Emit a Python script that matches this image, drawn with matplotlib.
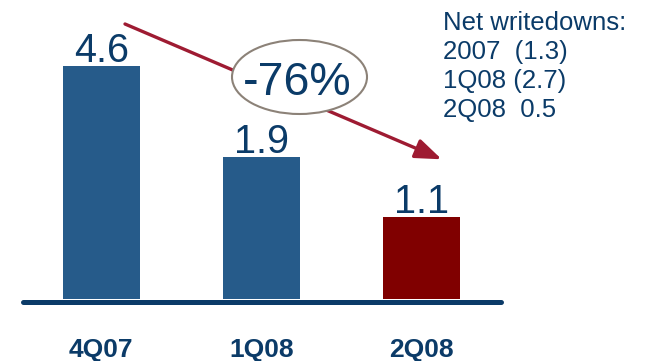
import numpy as np
import matplotlib.pyplot as plt
from matplotlib.patches import Ellipse

plt.rcParams['font.family'] = ['Liberation Sans', 'DejaVu Sans']

# quarterly values (bn)
quarters = ['4Q07', '1Q08', '2Q08']
values = [4.6, 1.9, 1.1]
bar_colors = ['#265B8A', '#265B8A', '#800000']

note_lines = ['Net writedowns:', '2007  (1.3)', '1Q08 (2.7)', '2Q08  0.5']
change_label = '-76%'

NAVY = '#0B3B68'
ARROW = '#9E1B32'

W, H = 645, 361
fig = plt.figure(figsize=(W / 100, H / 100), dpi=100)


def fx(x):
    return x / W


def fy(y):
    # y measured from the top edge, in pixels
    return 1 - y / H


ax = fig.add_axes([fx(22.5), 61.7 / H, fx(478), 299.3 / H])

# the tallest bar is compressed above 1.9 so the chart stays compact
BREAK, SQUEEZE = 1.9, 0.4524


def forward(v):
    v = np.asarray(v, dtype=float)
    return np.where(v <= BREAK, v, BREAK + (v - BREAK) * SQUEEZE)


def inverse(v):
    v = np.asarray(v, dtype=float)
    return np.where(v <= BREAK, v, BREAK + (v - BREAK) / SQUEEZE)


ax.set_yscale('function', functions=(forward, inverse))

x = np.arange(len(quarters))
ax.bar(x, values, width=0.484, color=bar_colors, zorder=2)
ax.set_xlim(-0.4928, 2.4947)
ax.set_ylim(0, 6.55)

for xi, v in zip(x, values):
    ax.annotate(f'{v}', (xi, v), xytext=(0, 3.2), textcoords='offset points',
                ha='center', va='baseline', fontsize=28.5, color=NAVY)

for side in ['top', 'right', 'left']:
    ax.spines[side].set_visible(False)
bottom = ax.spines['bottom']
bottom.set_color(NAVY)
bottom.set_linewidth(3.6)
bottom.set_capstyle('round')
bottom.set_position(('outward', 1.8))

ax.set_yticks([])
ax.set_xticks(x, quarters)
ax.tick_params(axis='x', length=0, pad=26, labelsize=19, labelcolor=NAVY)
for lbl in ax.get_xticklabels():
    lbl.set_fontweight('bold')

# trend arrow with the change badge on top of it
fig.add_artist(plt.Annotation(
    '', xy=(fx(441.7), fy(159.3)), xytext=(fx(125), fy(24)),
    xycoords='figure fraction', textcoords='figure fraction',
    arrowprops=dict(arrowstyle='-|>,head_length=0.8,head_width=0.3',
                    mutation_scale=20, color=ARROW, lw=2.4,
                    shrinkA=0, shrinkB=0)))
fig.add_artist(Ellipse((fx(299.5), fy(77)), fx(135), 74 / H,
                       transform=fig.transFigure, facecolor='white',
                       edgecolor='#8C8278', lw=1.5, zorder=3))
fig.text(fx(297), fy(95), change_label, ha='center', va='baseline',
         fontsize=33.5, color=NAVY, zorder=4)

for i, line in enumerate(note_lines):
    fig.text(fx(443), fy(29.5 + i * 29.3), line, ha='left', va='baseline',
             fontsize=18.5, color=NAVY)

fig.savefig('out.png', dpi=100)
